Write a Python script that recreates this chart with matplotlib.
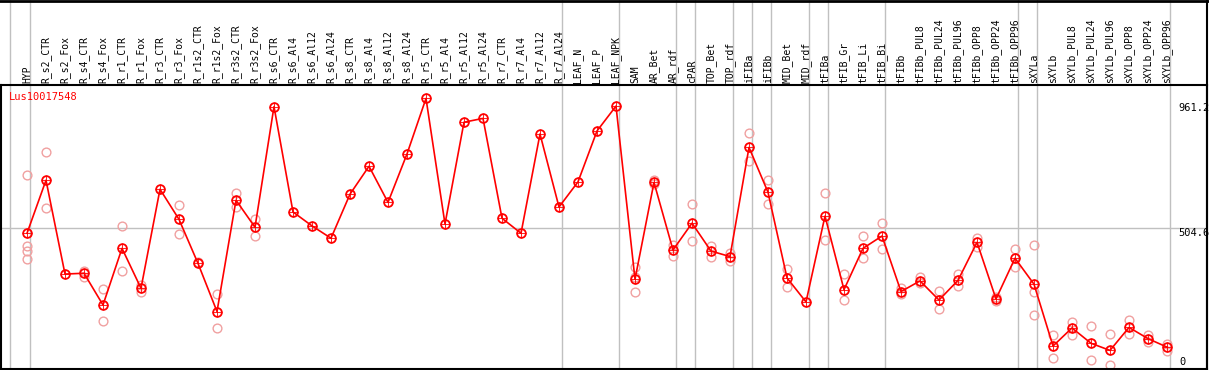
import matplotlib
matplotlib.use("Agg")
import matplotlib.pyplot as plt

# sample names along the x axis
samples = ["HYP", "R_s2_CTR", "R_s2_Fox", "R_s4_CTR", "R_s4_Fox", "R_r1_CTR", "R_r1_Fox",
           "R_r3_CTR", "R_r3_Fox", "R_r1s2_CTR", "R_r1s2_Fox", "R_r3s2_CTR", "R_r3s2_Fox",
           "R_s6_CTR", "R_s6_Al4", "R_s6_Al12", "R_s6_Al24", "R_s8_CTR", "R_s8_Al4",
           "R_s8_Al12", "R_s8_Al24", "R_r5_CTR", "R_r5_Al4", "R_r5_Al12", "R_r5_Al24",
           "R_r7_CTR", "R_r7_Al4", "R_r7_Al12", "R_r7_Al24", "LEAF_N", "LEAF_P", "LEAF_NPK",
           "SAM", "AR_Bet", "AR_rdf", "cPAR", "TOP_Bet", "TOP_rdf", "iFIBa", "iFIBb",
           "MID_Bet", "MID_rdf", "tFIBa", "tFIB_Gr", "tFIB_Li", "tFIB_Bi", "tFIBb",
           "tFIBb_PUL8", "tFIBb_PUL24", "tFIBb_PUL96", "tFIBb_OPP8", "tFIBb_OPP24",
           "tFIBb_OPP96", "sXYLa", "sXYLb", "sXYLb_PUL8", "sXYLb_PUL24", "sXYLb_PUL96",
           "sXYLb_OPP8", "sXYLb_OPP24", "sXYLb_OPP96"]

# mean expression per sample
means = [485, 679, 336, 339, 223, 430, 284, 646, 536, 375, 199, 606, 507,
         948, 563, 512, 467, 628, 730, 598, 775, 978, 519, 891, 905,
         540, 485, 848, 581, 673, 859, 950,
         317, 671, 424, 522, 420, 400, 799, 635, 322, 234, 548, 279, 430, 475,
         272, 311, 241, 313, 452, 245, 394, 299, 73, 139, 83, 57, 141, 100, 69]

# individual replicates (empty where none are shown)
reps = [[698, 439, 421, 390], [781, 576], [], [348, 326], [280, 163], [511, 346], [296, 269],
        [], [587, 481], [379], [263, 138], [632, 580], [537, 474],
        [], [], [], [], [], [], [], [], [], [], [], [],
        [], [], [], [], [], [], [],
        [363, 326, 270], [680, 665], [443, 403], [592, 456], [439, 397], [412, 385],
        [850, 749], [680, 591], [354, 288], [], [631, 459], [335, 241], [474, 394],
        [522, 426], [284, 263], [324, 302], [274, 208], [336, 293], [469, 436],
        [253, 239], [426, 361], [441, 272, 185], [113, 28], [161, 112], [146, 21],
        [116, 4], [168, 118], [113, 88], [80, 56]]

# group separators (after these sample indices)
group_ends = [-1, 0, 28, 31, 34, 35, 37, 38, 39, 41, 42, 45, 52, 53, 60]

axis_labels = [961.2, 504.6]
gene = "Lus10017548"

W, H = 1209, 370
fig = plt.figure(figsize=(W / 100, H / 100), dpi=100)
ax = fig.add_axes([1 / W, 1 - 369 / H, 1206 / W, 284 / H])

RED = "#ff0000"
PINK = "#f0a0a0"
GRAY = "#c0c0c0"
mono = "DejaVu Sans Mono"

x = list(range(len(samples)))
ax.set_xlim((1 - 27) / 19, (1207 - 27) / 19)
ax.set_ylim(-11, 1027)

for g in group_ends:
    ax.axvline(g + 0.18 if g >= 0 else g + 0.1, ymin=0, ymax=369 / 284,
               color=GRAY, lw=1, clip_on=False, zorder=0)
ax.axhline(axis_labels[1], color=GRAY, lw=1, zorder=0)

for i, r in enumerate(reps):
    if r:
        ax.plot([i] * len(r), r, "o", ms=6.3, mfc="none", mec=PINK, mew=1.0, zorder=2)

ax.plot(x, means, "-", color=RED, lw=1.2, zorder=3)
ax.plot(x, means, "o", ms=6.3, mfc="none", mec=RED, mew=1.3, zorder=4)
ax.plot(x, means, "+", ms=7.5, color=RED, mew=0.6, zorder=4)

for i, s in enumerate(samples):
    ax.text(i, 1 + 2 / 284, s, transform=ax.get_xaxis_transform(), rotation=90,
            ha="center", va="bottom", fontsize=7, family=mono, color="black")

ax.text(8 / 1206, 1 - 12 / 284, gene, transform=ax.transAxes, color=RED,
        fontsize=7.5, family=mono, va="center", ha="left")

for v in axis_labels:
    ax.text(1177 / 1206, v, f"{v}", transform=ax.get_yaxis_transform(),
            ha="left", va="top", fontsize=7.5, family=mono)
ax.text(1178 / 1206, 7 / 284, "0", transform=ax.transAxes,
        ha="left", va="center", fontsize=7.5, family=mono)

ax.set_xticks([])
ax.set_yticks([])
for sp in ax.spines.values():
    sp.set_linewidth(1.5)

# outer frame: top line and right edge through the label area
fig.add_artist(plt.Line2D([0, 1], [1 - 0.5 / H, 1 - 0.5 / H], color="black", lw=2))
fig.add_artist(plt.Line2D([1207 / W, 1207 / W], [0, 1], color="black", lw=1.5))

fig.savefig("out.png", dpi=100)
